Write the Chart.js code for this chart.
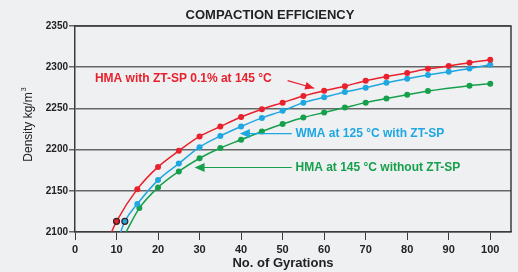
<!DOCTYPE html>
<html lang="en">
<head>
<meta charset="UTF-8">
<title>Compaction Efficiency</title>
<script src="https://cdn.jsdelivr.net/npm/chart.js"></script>
<style>
    html, body { margin: 0; padding: 0; background: #eff0f2; }
    #wrap { width: 518px; height: 272px; }
</style>
</head>
<body>
<div id="wrap"><canvas id="myChart" width="518" height="272"></canvas></div>

<script>
    // data (No. of gyrations vs density kg/m3)
    var redX = [8.8, 10, 15, 20, 25, 30, 35, 40, 45, 50, 55, 60, 65, 70, 75, 80, 85, 90, 95, 100];
    var redY = [2100, 2113, 2152, 2179, 2198.5, 2216, 2228, 2239.5, 2249, 2257, 2265, 2271.5, 2277, 2283.5, 2288.5, 2293, 2298, 2301.5, 2305.5, 2309];

    var blueX = [11, 12, 15, 20, 25, 30, 35, 40, 45, 50, 55, 60, 65, 70, 75, 80, 85, 90, 95, 100];
    var blueY = [2100, 2113, 2134, 2163, 2183, 2203, 2216.5, 2228, 2238.5, 2247, 2257, 2263.5, 2270, 2275, 2281, 2286, 2290.5, 2294.5, 2298.5, 2303];

    var greenX = [12.3, 15.5, 20, 25, 30, 35, 40, 45, 50, 55, 60, 65, 70, 75, 80, 85, 95, 100];
    var greenY = [2100, 2129, 2154, 2173.5, 2189.5, 2202, 2212, 2222, 2231, 2239, 2245, 2251, 2257, 2262, 2266.5, 2271, 2277.5, 2280];

    var xTicks = [0, 10, 20, 30, 40, 50, 60, 70, 80, 90, 100];
    var yTicks = [2100, 2150, 2200, 2250, 2300, 2350];

    var RED = '#e8212d';
    var BLUE = '#1ea7e1';
    var GREEN = '#16a04c';

    function toPoints(xs, ys) {
        return xs.map(function(x, i) { return { x: x, y: ys[i] }; });
    }

    // first entry is where the fitted curve meets the axis: no marker there
    function radii(n) {
        var r = [];
        for (var i = 0; i < n; i++) r.push(i === 0 ? 0 : 3);
        return r;
    }

    function makeSet(label, xs, ys, color, outlined) {
        var borders = xs.map(function(x, i) { return (outlined && i === 1) ? '#3a2020' : color; });
        return {
            label: label,
            data: toPoints(xs, ys),
            borderColor: color,
            backgroundColor: color,
            pointBackgroundColor: color,
            pointBorderColor: borders,
            pointBorderWidth: xs.map(function(x, i) { return (outlined && i === 1) ? 1.2 : 0; }),
            pointRadius: radii(xs.length),
            borderWidth: 1.5,
            cubicInterpolationMode: 'monotone',
            fill: false
        };
    }

    function arrowHead(ctx, x1, y1, x2, y2, len, wid) {
        var a = Math.atan2(y2 - y1, x2 - x1);
        ctx.beginPath();
        ctx.moveTo(x2, y2);
        ctx.lineTo(x2 - len * Math.cos(a) + wid * Math.sin(a), y2 - len * Math.sin(a) - wid * Math.cos(a));
        ctx.lineTo(x2 - len * Math.cos(a) - wid * Math.sin(a), y2 - len * Math.sin(a) + wid * Math.cos(a));
        ctx.closePath();
        ctx.fill();
    }

    var extras = {
        id: 'extras',
        afterDraw: function(chart) {
            var ctx = chart.ctx;
            var xs = chart.scales.x, ys = chart.scales.y;
            var area = chart.chartArea;
            ctx.save();

            // frame top and right
            ctx.strokeStyle = '#3b3b3b';
            ctx.lineWidth = 1.5;
            ctx.beginPath();
            ctx.moveTo(area.left, area.top);
            ctx.lineTo(area.right, area.top);
            ctx.lineTo(area.right, area.bottom);
            ctx.stroke();

            // title
            ctx.fillStyle = '#222';
            ctx.font = 'bold 13px "Liberation Sans", Arial, sans-serif';
            ctx.textAlign = 'center';
            ctx.textBaseline = 'middle';
            ctx.fillText('COMPACTION EFFICIENCY', 270, 15);

            // x title
            ctx.font = 'bold 13px "Liberation Sans", Arial, sans-serif';
            ctx.fillText('No. of Gyrations', 283, 263);

            // y title
            ctx.save();
            ctx.translate(29, 124);
            ctx.rotate(-Math.PI / 2);
            ctx.font = '12px "Liberation Sans", Arial, sans-serif';
            ctx.textAlign = 'center';
            ctx.fillText('Density kg/m', -3, 0);
            var w = ctx.measureText('Density kg/m').width;
            ctx.font = '7px "Liberation Sans", Arial, sans-serif';
            ctx.textAlign = 'left';
            ctx.fillText('3', w / 2 - 2, -5);
            ctx.restore();

            // annotations
            ctx.font = 'bold 12px "Liberation Sans", Arial, sans-serif';
            ctx.textAlign = 'left';
            ctx.textBaseline = 'middle';

            ctx.fillStyle = RED;
            ctx.fillText('HMA with ZT-SP 0.1% at 145 °C', xs.getPixelForValue(4.8), ys.getPixelForValue(2286));
            var ax1 = xs.getPixelForValue(51.2), ay1 = ys.getPixelForValue(2283.7);
            var ax2 = xs.getPixelForValue(57.6), ay2 = ys.getPixelForValue(2274.5);
            ctx.strokeStyle = RED;
            ctx.lineWidth = 1.2;
            ctx.beginPath();
            ctx.moveTo(ax1, ay1);
            ctx.lineTo(ax2, ay2);
            ctx.stroke();
            arrowHead(ctx, ax1, ay1, ax2, ay2, 9, 4);

            ctx.fillStyle = BLUE;
            ctx.strokeStyle = BLUE;
            var by = ys.getPixelForValue(2219.5);
            ctx.fillText('WMA at 125 °C with ZT-SP', xs.getPixelForValue(53.1), by);
            ctx.beginPath();
            ctx.moveTo(xs.getPixelForValue(52.2), by);
            ctx.lineTo(xs.getPixelForValue(41), by);
            ctx.stroke();
            arrowHead(ctx, xs.getPixelForValue(52.2), by, xs.getPixelForValue(39.7), by, 10, 4.5);

            ctx.fillStyle = GREEN;
            ctx.strokeStyle = GREEN;
            var gy = ys.getPixelForValue(2178.3);
            ctx.fillText('HMA at 145 °C without ZT-SP', xs.getPixelForValue(53.1), gy);
            ctx.beginPath();
            ctx.moveTo(xs.getPixelForValue(52.2), gy);
            ctx.lineTo(xs.getPixelForValue(30), gy);
            ctx.stroke();
            arrowHead(ctx, xs.getPixelForValue(52.2), gy, xs.getPixelForValue(28.8), gy, 10, 4.5);

            ctx.restore();
        }
    };

    var ctx = document.getElementById('myChart').getContext('2d');
    var myChart = new Chart(ctx, {
        type: 'line',
        data: {
            datasets: [
                makeSet('HMA with ZT-SP 0.1% at 145 °C', redX, redY, RED, true),
                makeSet('WMA at 125 °C with ZT-SP', blueX, blueY, BLUE, true),
                makeSet('HMA at 145 °C without ZT-SP', greenX, greenY, GREEN, false)
            ]
        },
        options: {
            responsive: false,
            animation: false,
            layout: { padding: { top: 26, right: 7, left: 0, bottom: 0 } },
            plugins: {
                legend: { display: false },
                title: { display: false },
                tooltip: { enabled: false }
            },
            scales: {
                x: {
                    type: 'linear',
                    min: 0,
                    max: 105,
                    afterBuildTicks: function(scale) {
                        scale.ticks = xTicks.map(function(v) { return { value: v }; });
                    },
                    afterFit: function(scale) { scale.height = 40; },
                    grid: {
                        drawOnChartArea: false,
                        tickLength: 8,
                        color: '#3b3b3b',
                        lineWidth: 1
                    },
                    border: { color: '#3b3b3b', width: 1.5 },
                    ticks: {
                        padding: 3,
                        color: '#222',
                        maxRotation: 0,
                        callback: function(v) { return String(v); },
                        font: { family: '"Liberation Sans", Arial, sans-serif', size: 11, weight: 'bold' }
                    }
                },
                y: {
                    min: 2100,
                    max: 2350,
                    afterBuildTicks: function(scale) {
                        scale.ticks = yTicks.map(function(v) { return { value: v }; });
                    },
                    afterFit: function(scale) { scale.width = 75; },
                    grid: {
                        color: '#666666',
                        lineWidth: 1.5,
                        tickLength: 6
                    },
                    border: { color: '#3b3b3b', width: 1.5 },
                    ticks: {
                        padding: 1,
                        color: '#222',
                        callback: function(v) { return String(v); },
                        font: { family: '"Liberation Sans", Arial, sans-serif', size: 10, weight: 'bold' }
                    }
                }
            }
        },
        plugins: [extras]
    });
</script>

</body>
</html>
